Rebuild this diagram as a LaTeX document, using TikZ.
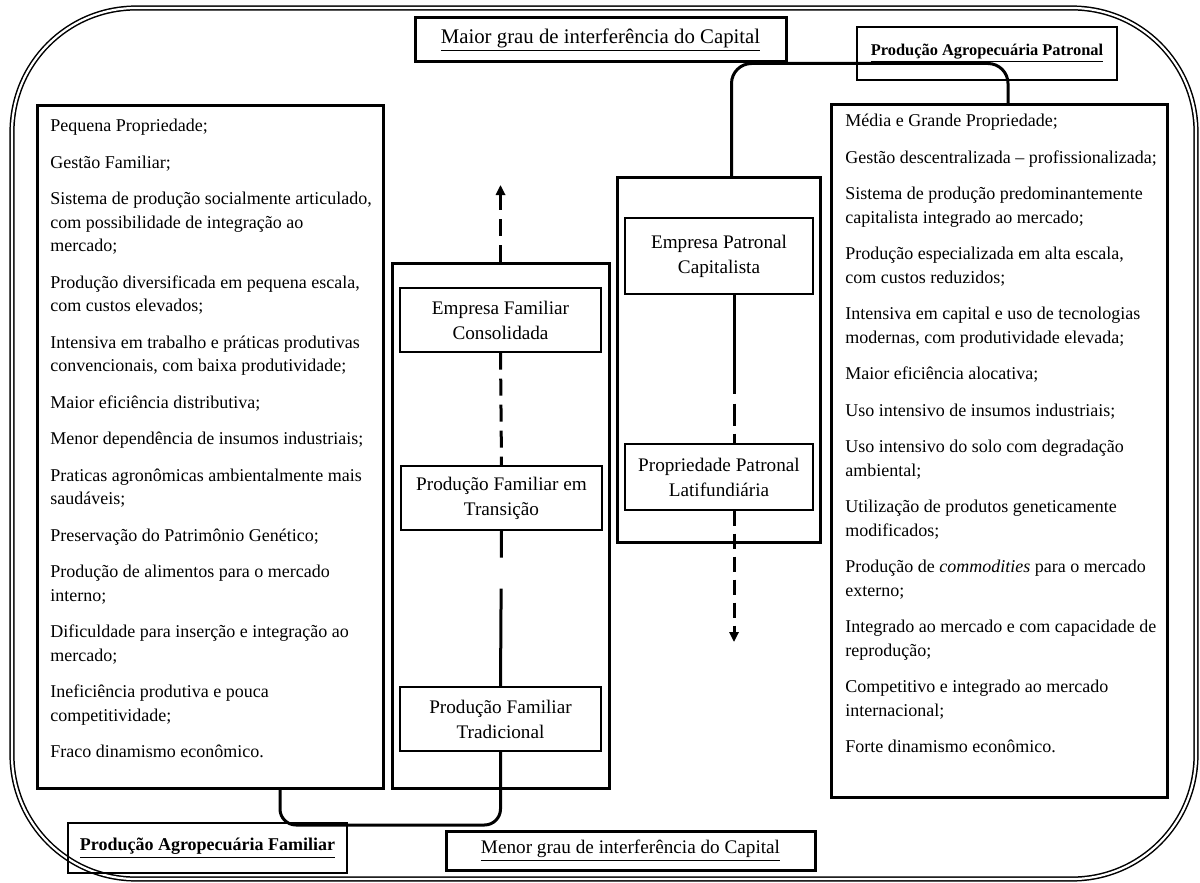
\documentclass[tikz,border=0pt]{standalone}
\usepackage{fontspec}
\setmainfont{Liberation Serif}
\usetikzlibrary{arrows.meta,positioning,calc}
\newcommand{\lsep}{\\[6.5pt]}

\begin{document}
\begin{tikzpicture}[x=0.5pt,y=-0.5pt,>={Triangle[length=5pt,width=4.6pt]},
  frame/.style={draw,double,line width=0.75pt,double distance=1.1pt,rounded corners=62pt},
  heavy/.style={draw,line width=1.5pt,inner sep=0pt},
  light/.style={draw,line width=0.6pt,inner sep=0pt},
  stage/.style={light,align=center,font=\fontsize{9.6}{12.5}\selectfont},
  listtxt/.style={anchor=north west,align=left,inner sep=0pt,font=\fontsize{9}{11.75}\selectfont},
  link/.style={line width=1.5pt},
  dlink/.style={line width=1.5pt,dash pattern=on 8.5pt off 4.5pt}]
  \useasboundingbox (0,0) rectangle (1200,883);
  \draw[frame] (12,8) rectangle (1196,879);

  \node[heavy,minimum width=185.5pt,minimum height=22pt,font=\fontsize{10.4}{12}\selectfont] (maior) at (600.5,40) {\underline{Maior grau de interferência do Capital}};
  \node[heavy,minimum width=184.5pt,minimum height=19.5pt,font=\fontsize{9.6}{12}\selectfont] (menor) at (630.5,850.5) {\underline{Menor grau de interferência do Capital}};
  \node[light,minimum width=130pt,minimum height=26.5pt,font=\fontsize{8.2}{10}\selectfont\bfseries] (patlbl) at (987,53.5) {\underline{Produção Agropecuária Patronal}};
  \node[light,minimum width=139.5pt,minimum height=25pt,font=\fontsize{9}{11}\selectfont\bfseries] (famlbl) at (207.5,848) {\underline{Produção Agropecuária Familiar}};

  \node[heavy,minimum width=173pt,minimum height=341pt] (famlist) at (210,447) {};
  \node[heavy,minimum width=168pt,minimum height=346pt] (patlist) at (999,451) {};
  \node[heavy,minimum width=108.5pt,minimum height=262.5pt] (famcol) at (500.5,525.5) {};
  \node[heavy,minimum width=101.5pt,minimum height=182pt] (patcol) at (718.5,360) {};

  \node[stage,minimum width=100.5pt,minimum height=32pt] (consol) at (500.5,320) {Empresa Familiar\\Consolidada};
  \node[stage,minimum width=100.5pt,minimum height=32pt] (transic) at (501.5,498) {Produção Familiar em\\Transição};
  \node[stage,minimum width=100.5pt,minimum height=32pt] (tradic) at (500.5,719) {Produção Familiar\\Tradicional};
  \node[stage,minimum width=94pt,minimum height=38pt] (empcap) at (719,256) {Empresa Patronal\\Capitalista};
  \node[stage,minimum width=94pt,minimum height=33pt] (latif) at (719,477) {Propriedade Patronal\\Latifundiária};

  \node[listtxt] (famtxt) at (50,119) {Pequena Propriedade;\lsep
    Gestão Familiar;\lsep
    Sistema de produção socialmente articulado,\\com possibilidade de integração ao\\mercado;\lsep
    Produção diversificada em pequena escala,\\com custos elevados;\lsep
    Intensiva em trabalho e práticas produtivas\\convencionais, com baixa produtividade;\lsep
    Maior eficiência distributiva;\lsep
    Menor dependência de insumos industriais;\lsep
    Praticas agronômicas ambientalmente mais\\saudáveis;\lsep
    Preservação do Patrimônio Genético;\lsep
    Produção de alimentos para o mercado\\interno;\lsep
    Dificuldade para inserção e integração ao\\mercado;\lsep
    Ineficiência produtiva e pouca\\competitividade;\lsep
    Fraco dinamismo econômico.};
  \node[listtxt] (pattxt) at (845,114) {Média e Grande Propriedade;\lsep
    Gestão descentralizada -- profissionalizada;\lsep
    Sistema de produção predominantemente\\capitalista integrado ao mercado;\lsep
    Produção especializada em alta escala,\\com custos reduzidos;\lsep
    Intensiva em capital e uso de tecnologias\\modernas, com produtividade elevada;\lsep
    Maior eficiência alocativa;\lsep
    Uso intensivo de insumos industriais;\lsep
    Uso intensivo do solo com degradação\\ambiental;\lsep
    Utilização de produtos geneticamente\\modificados;\lsep
    Produção de \textit{commodities} para o mercado\\externo;\lsep
    Integrado ao mercado e com capacidade de\\reprodução;\lsep
    Competitivo e integrado ao mercado\\internacional;\lsep
    Forte dinamismo econômico.};

  \coordinate (up) at (500.5,185);
  \coordinate (down) at (734,642);
  \coordinate (fambase) at (390,825);

  \draw[dlink,->] (famcol.north) -- (up);
  \draw[dlink] (consol.south) -- (transic.north);
  \draw[link,dash pattern=on 13.5pt off 15.5pt on 80pt] (transic.south) -- (tradic.north);
  \draw[link,dash pattern=on 49.5pt off 5pt on 11pt off 4pt on 20pt] ([xshift=7.5pt]empcap.south) -- ([xshift=7.5pt]latif.north);
  \draw[dlink,dash pattern=on 7.5pt off 4pt,->] ([xshift=7.5pt]latif.south) -- (down);
  \draw[link,rounded corners=8pt] ([xshift=35pt]famlist.south) |- (fambase) -| (tradic.south);
  \draw[link,rounded corners=10pt] ([xshift=4.5pt]patlist.north) -- ++(0,-40) -| ([xshift=6.5pt]patcol.north);
\end{tikzpicture}
\end{document}
